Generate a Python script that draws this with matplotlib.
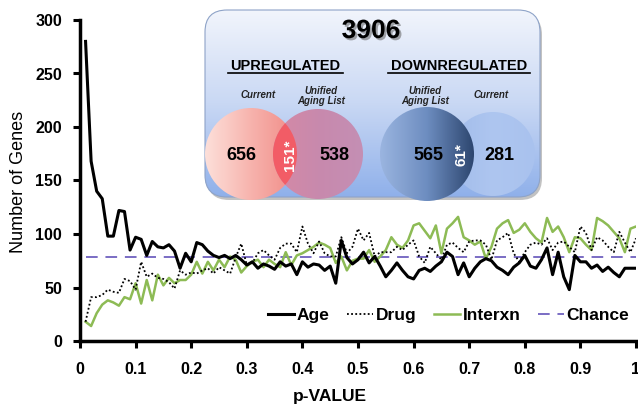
import numpy as np
import matplotlib
matplotlib.use("Agg")
import matplotlib.pyplot as plt
from matplotlib.patches import FancyBboxPatch, Circle
from matplotlib.colors import LinearSegmentedColormap
import matplotlib.patheffects as pe

plt.rcParams['font.family'] = ['Liberation Sans', 'DejaVu Sans']

# ---------------- data ----------------
p_values = np.round(np.arange(1, 101) / 100.0, 2)

age = [280, 168, 140, 133, 98, 98, 122, 121, 85, 97,
       95, 80, 93, 88, 87, 90, 84, 68, 82, 74,
       92, 90, 84, 80, 78, 80, 77, 80, 76, 71,
       74, 68, 72, 70, 67, 74, 70, 72, 62, 74,
       69, 72, 71, 66, 70, 54, 94, 78, 72, 76,
       83, 73, 79, 70, 60, 66, 73, 66, 60, 58,
       66, 68, 65, 70, 74, 83, 79, 62, 73, 60,
       68, 74, 77, 75, 69, 66, 62, 69, 73, 80,
       70, 68, 76, 87, 62, 83, 60, 48, 80, 74,
       74, 68, 71, 65, 69, 64, 60, 68, 68, 68]

drug = [18, 41, 41, 43, 48, 46, 45, 58, 56, 48,
        74, 60, 63, 59, 58, 55, 49, 66, 62, 64,
        63, 66, 68, 63, 69, 66, 63, 78, 91, 71,
        73, 82, 85, 80, 76, 87, 91, 91, 83, 107,
        91, 82, 93, 82, 79, 79, 97, 82, 88, 105,
        94, 101, 79, 83, 83, 83, 88, 85, 90, 94,
        79, 73, 88, 82, 76, 90, 92, 87, 83, 93,
        94, 94, 90, 76, 94, 97, 101, 82, 74, 83,
        90, 92, 90, 96, 85, 92, 93, 88, 83, 107,
        101, 85, 97, 94, 88, 83, 102, 92, 83, 96]

interxn = [18, 14, 26, 34, 38, 36, 33, 41, 39, 54,
           35, 57, 38, 62, 52, 59, 54, 57, 57, 62,
           74, 63, 74, 66, 76, 69, 79, 76, 64, 70,
           74, 76, 69, 76, 72, 69, 83, 71, 80, 82,
           85, 88, 92, 90, 87, 73, 79, 66, 75, 77,
           77, 85, 74, 79, 85, 97, 90, 87, 94, 108,
           110, 103, 96, 108, 82, 105, 110, 116, 97, 94,
           90, 93, 77, 88, 105, 110, 113, 101, 104, 110,
           102, 96, 92, 115, 102, 107, 97, 83, 97, 96,
           90, 85, 115, 112, 108, 102, 96, 83, 105, 107]

total_genes = 3906
chance_level = total_genes / 50.0

series_labels = ["Age", "Drug", "Interxn", "Chance"]
x_ticks = [0, 0.1, 0.2, 0.3, 0.4, 0.5, 0.6, 0.7, 0.8, 0.9, 1]
x_tick_labels = ["0", "0.1", "0.2", "0.3", "0.4", "0.5", "0.6", "0.7", "0.8", "0.9", "1"]
y_ticks = [0, 50, 100, 150, 200, 250, 300]

# Venn numbers
up_current, up_overlap, up_unified = 656, 151, 538
down_unified, down_overlap, down_current = 565, 61, 281

# ---------------- figure ----------------
W, H = 638, 411
fig = plt.figure(figsize=(W / 100, H / 100), dpi=100)
ax = fig.add_axes([80 / W, (H - 341) / H, (636 - 80) / W, (341 - 20) / H])

green = '#8dbb55'
purple = '#7a6cc4'
ax.plot(p_values, [chance_level] * len(p_values), color=purple, lw=1.4,
        dashes=(6, 4), label=series_labels[3], zorder=2)
ax.plot(p_values, interxn, color=green, lw=1.8, label=series_labels[2], zorder=3)
ax.plot(p_values, drug, color='black', lw=1.3, ls=(0, (1, 1.3)), label=series_labels[1], zorder=4)
ax.plot(p_values, age, color='black', lw=2.2, label=series_labels[0], zorder=5)

ax.set_xlim(0, 1)
ax.set_ylim(0, 300)
ax.set_xticks(x_ticks)
ax.set_xticklabels(x_tick_labels)
ax.set_yticks(y_ticks)
for s in ['top', 'right']:
    ax.spines[s].set_visible(False)
for s in ['left', 'bottom']:
    ax.spines[s].set_linewidth(2.5)
ax.tick_params(axis='both', direction='out', length=5, width=2.2, labelsize=11.5)
ax.tick_params(axis='x', pad=10)
ax.tick_params(axis='y', pad=8)
for lab in ax.get_xticklabels() + ax.get_yticklabels():
    lab.set_fontweight('bold')

ax.set_ylabel("Number of Genes", fontsize=13)
ax.set_xlabel("p-VALUE", fontsize=12.5, fontweight='bold')
ax.xaxis.set_label_coords((330 - 80) / (636 - 80), -(389 - 341) / (341 - 20))
ax.yaxis.set_label_coords(-(80 - 27) / (636 - 80), (341 - 182) / (341 - 20))

handles, labels = ax.get_legend_handles_labels()
order = [3, 2, 1, 0]
leg = ax.legend([handles[i] for i in order], [labels[i] for i in order],
                ncol=4, frameon=False, loc='center right',
                bbox_to_anchor=(1.0, (341 - 315) / (341 - 20)),
                prop={'weight': 'bold', 'size': 12.5},
                handlelength=1.5, handletextpad=0.15, columnspacing=1.0,
                borderaxespad=0)

# ---------------- inset (overlay in pixel coords) ----------------
ov = fig.add_axes([0, 0, 1, 1], zorder=10)
ov.set_xlim(0, W)
ov.set_ylim(H, 0)
ov.axis('off')
ov.patch.set_alpha(0)

bx0, by0, bw, bh = 205, 10, 335, 187
shadow = FancyBboxPatch((bx0 + 2, by0 + 3), bw, bh,
                        boxstyle="round,pad=0,rounding_size=22",
                        fc='#9a9a9a', ec='none', alpha=0.6, zorder=1)
ov.add_patch(shadow)
box = FancyBboxPatch((bx0, by0), bw, bh, boxstyle="round,pad=0,rounding_size=22",
                     fc='none', ec='#8ea3c8', lw=0.8, zorder=3)
ov.add_patch(box)
bg_cmap = LinearSegmentedColormap.from_list('bg', ['#f2f5fc', '#c9d8f4', '#8fb0ea'])
grad = np.linspace(0, 1, 256).reshape(-1, 1)
im = ov.imshow(grad, cmap=bg_cmap, extent=(bx0, bx0 + bw, by0 + bh, by0),
               aspect='auto', zorder=2, interpolation='bicubic')
im.set_clip_path(box)


def grad_circle(cx, cy, r, colors, z):
    c = Circle((cx, cy), r, fc='none', ec='none', zorder=z)
    ov.add_patch(c)
    cm = LinearSegmentedColormap.from_list('c', colors)
    g = np.linspace(0, 1, 256).reshape(1, -1)
    img = ov.imshow(g, cmap=cm, extent=(cx - r, cx + r, cy + r, cy - r),
                    aspect='auto', zorder=z, interpolation='bicubic')
    img.set_clip_path(c)
    return c


cy = 154
# Upregulated
c1 = grad_circle(251, cy, 46, ['#fde0da', '#f7b3ad', '#f08a86'], 4)
c2 = grad_circle(318, cy, 45, ['#d68aa5', '#c889ad', '#c48fb4'], 5)
inter = Circle((318, cy), 45, fc='#f25c66', ec='none', zorder=6)
ov.add_patch(inter)
inter.set_clip_path(c1)
# Downregulated
grad_circle(493, cy, 42, ['#a2bcea', '#aec6f0', '#a9c2ee'], 4)
grad_circle(427, cy, 47, ['#9bb5e0', '#6d8dc0', '#2d466f'], 5)

ov.text(371, 31, f"{total_genes}", fontsize=19, fontweight='bold', ha='center',
        va='center', zorder=8,
        path_effects=[pe.withSimplePatchShadow(offset=(1.5, -1.5), shadow_rgbFace='#555555', alpha=0.5)])

for txt, x in [("UPREGULATED", 285), ("DOWNREGULATED", 459)]:
    ov.text(x, 66, txt, fontsize=10.5, fontweight='bold', ha='center', va='center', zorder=8)
# underlines
ov.plot([228, 343], [73.5, 73.5], color='black', lw=1.2, zorder=8)
ov.plot([388, 530], [73.5, 73.5], color='black', lw=1.2, zorder=8)

small = dict(fontsize=7, fontstyle='italic', fontweight='bold', ha='center',
             va='center', zorder=8, linespacing=1.1, color='#222222')
ov.text(258, 95, "Current", **small)
ov.text(321, 96, "Unified\nAging List", **small)
ov.text(425, 96, "Unified\nAging List", **small)
ov.text(491, 95, "Current", **small)

num = dict(fontsize=13, fontweight='bold', ha='center', va='center', zorder=8)
ov.text(241, 155, f"{up_current}", **num)
ov.text(334, 155, f"{up_unified}", **num)
ov.text(290, 155, f"{up_overlap}*", rotation=90, color='white', fontsize=11,
        fontweight='bold', ha='center', va='center', zorder=8)
ov.text(428, 155, f"{down_unified}", **num)
ov.text(499, 155, f"{down_current}", **num)
ov.text(462, 155, f"{down_overlap}*", rotation=90, color='white', fontsize=11,
        fontweight='bold', ha='center', va='center', zorder=8)

fig.savefig("out.png", dpi=100)
